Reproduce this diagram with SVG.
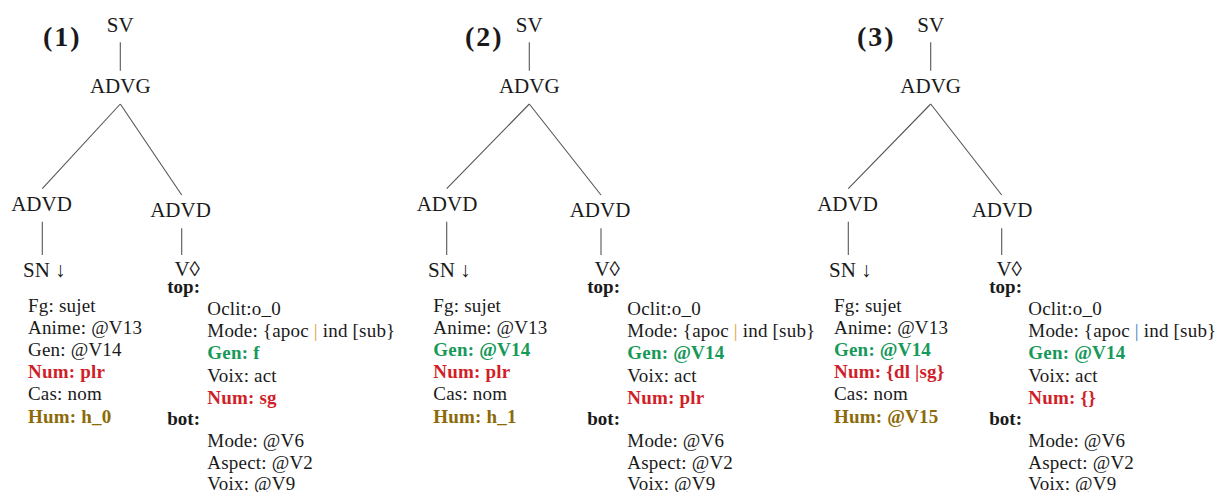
<svg xmlns="http://www.w3.org/2000/svg" width="1221" height="492" viewBox="0 0 1221 492">
<style>
text{font-family:"Liberation Serif","DejaVu Serif",serif;fill:#1a1a1a}
.lab{font-size:28px;font-weight:bold;letter-spacing:2px}
.nd{font-size:21px;text-anchor:middle}
.ndl{font-size:21px}
.ndr{font-size:21px;text-anchor:end}
.ft{font-size:19px;letter-spacing:0.2px}
.hd{font-size:19px;font-weight:bold;text-anchor:end}
.b{font-weight:bold}
.red{fill:#d01f2a}
.grn{fill:#17995a}
.olv{fill:#8c6a08}
.org{fill:#e3a045}
.blu{fill:#3d84c6}
.c line{stroke:#555;stroke-width:1.1}
</style>
<rect width="1221" height="492" fill="#fff"/>
<g id="connectors" class="c">
<line x1="120.3" y1="42.3" x2="120.3" y2="70.7"/>
<line x1="120.3" y1="104" x2="42.3" y2="188.7"/>
<line x1="120.3" y1="104" x2="181.7" y2="195"/>
<line x1="42.3" y1="221.7" x2="42.3" y2="255"/>
<line x1="181.7" y1="228.3" x2="181.7" y2="255"/>
<line x1="529.3" y1="42.3" x2="529.3" y2="70.7"/>
<line x1="529.3" y1="104" x2="446.7" y2="188.7"/>
<line x1="529.3" y1="104" x2="601" y2="195"/>
<line x1="446.7" y1="221.7" x2="446.7" y2="255"/>
<line x1="601" y1="228.3" x2="601" y2="255"/>
<line x1="930.7" y1="42.3" x2="930.7" y2="70.7"/>
<line x1="930.7" y1="104" x2="848.3" y2="188.7"/>
<line x1="930.7" y1="104" x2="1001.7" y2="195"/>
<line x1="848.3" y1="221.7" x2="848.3" y2="255"/>
<line x1="1001.7" y1="228.3" x2="1001.7" y2="255"/>
</g>
<g id="tree1">
<text class="lab" x="43" y="46">(1)</text>
<g id="t1-sv"><text class="nd" x="120.3" y="32">SV</text></g>
<g id="t1-advg"><text class="nd" x="120.3" y="93">ADVG</text></g>
<g id="t1-advd-l"><text class="nd" x="41.5" y="211">ADVD</text></g>
<g id="t1-advd-r"><text class="nd" x="180.5" y="217">ADVD</text></g>
<g id="t1-sn">
<text class="ndl" x="23" y="277">SN ↓</text>
<text class="ft" x="28" y="311.5">Fg: sujet</text>
<text class="ft" x="28" y="333.5">Anime: @V13</text>
<text class="ft" x="28" y="355.7">Gen: @V14</text>
<text class="ft b red" x="28" y="378">Num: plr</text>
<text class="ft" x="28" y="400.3">Cas: nom</text>
<text class="ft b olv" x="28" y="422.5">Hum: h_0</text>
</g>
<g id="t1-v">
<text class="ndr" x="200" y="275.5">V◊</text>
<text class="hd" x="200" y="293">top:</text>
<text class="ft" x="207.3" y="315">Oclit:o_0</text>
<text class="ft" x="207.3" y="337.3">Mode: {apoc <tspan class="org">|</tspan> ind [sub}</text>
<text class="ft b grn" x="207.3" y="359.3">Gen: f</text>
<text class="ft" x="207.3" y="381.7">Voix: act</text>
<text class="ft b red" x="207.3" y="404">Num: sg</text>
<text class="hd" x="200" y="425">bot:</text>
<text class="ft" x="207.3" y="447.3">Mode: @V6</text>
<text class="ft" x="207.3" y="469.3">Aspect: @V2</text>
<text class="ft" x="207.3" y="490">Voix: @V9</text>
</g>
</g>
<g id="tree2">
<text class="lab" x="465" y="46">(2)</text>
<g id="t2-sv"><text class="nd" x="529.3" y="32">SV</text></g>
<g id="t2-advg"><text class="nd" x="529.3" y="93">ADVG</text></g>
<g id="t2-advd-l"><text class="nd" x="447" y="211">ADVD</text></g>
<g id="t2-advd-r"><text class="nd" x="600" y="217">ADVD</text></g>
<g id="t2-sn">
<text class="ndl" x="428" y="277">SN ↓</text>
<text class="ft" x="433.3" y="311.5">Fg: sujet</text>
<text class="ft" x="433.3" y="333.5">Anime: @V13</text>
<text class="ft b grn" x="433.3" y="355.7">Gen: @V14</text>
<text class="ft b red" x="433.3" y="378">Num: plr</text>
<text class="ft" x="433.3" y="400.3">Cas: nom</text>
<text class="ft b olv" x="433.3" y="422.5">Hum: h_1</text>
</g>
<g id="t2-v">
<text class="ndr" x="620" y="275.5">V◊</text>
<text class="hd" x="620" y="293">top:</text>
<text class="ft" x="627.3" y="315">Oclit:o_0</text>
<text class="ft" x="627.3" y="337.3">Mode: {apoc <tspan class="org">|</tspan> ind [sub}</text>
<text class="ft b grn" x="627.3" y="359.3">Gen: @V14</text>
<text class="ft" x="627.3" y="381.7">Voix: act</text>
<text class="ft b red" x="627.3" y="404">Num: plr</text>
<text class="hd" x="620" y="425">bot:</text>
<text class="ft" x="627.3" y="447.3">Mode: @V6</text>
<text class="ft" x="627.3" y="469.3">Aspect: @V2</text>
<text class="ft" x="627.3" y="490">Voix: @V9</text>
</g>
</g>
<g id="tree3">
<text class="lab" x="857" y="46">(3)</text>
<g id="t3-sv"><text class="nd" x="930.7" y="32">SV</text></g>
<g id="t3-advg"><text class="nd" x="930.7" y="93">ADVG</text></g>
<g id="t3-advd-l"><text class="nd" x="847.5" y="211">ADVD</text></g>
<g id="t3-advd-r"><text class="nd" x="1002" y="217">ADVD</text></g>
<g id="t3-sn">
<text class="ndl" x="829" y="277">SN ↓</text>
<text class="ft" x="834" y="311.5">Fg: sujet</text>
<text class="ft" x="834" y="333.5">Anime: @V13</text>
<text class="ft b grn" x="834" y="355.7">Gen: @V14</text>
<text class="ft b red" x="834" y="378">Num: {dl |sg}</text>
<text class="ft" x="834" y="400.3">Cas: nom</text>
<text class="ft b olv" x="834" y="422.5">Hum: @V15</text>
</g>
<g id="t3-v">
<text class="ndr" x="1022" y="275.5">V◊</text>
<text class="hd" x="1022" y="293">top:</text>
<text class="ft" x="1028.3" y="315">Oclit:o_0</text>
<text class="ft" x="1028.3" y="337.3">Mode: {apoc <tspan class="blu">|</tspan> ind [sub}</text>
<text class="ft b grn" x="1028.3" y="359.3">Gen: @V14</text>
<text class="ft" x="1028.3" y="381.7">Voix: act</text>
<text class="ft b red" x="1028.3" y="404">Num: {}</text>
<text class="hd" x="1022" y="425">bot:</text>
<text class="ft" x="1028.3" y="447.3">Mode: @V6</text>
<text class="ft" x="1028.3" y="469.3">Aspect: @V2</text>
<text class="ft" x="1028.3" y="490">Voix: @V9</text>
</g>
</g>
</svg>
